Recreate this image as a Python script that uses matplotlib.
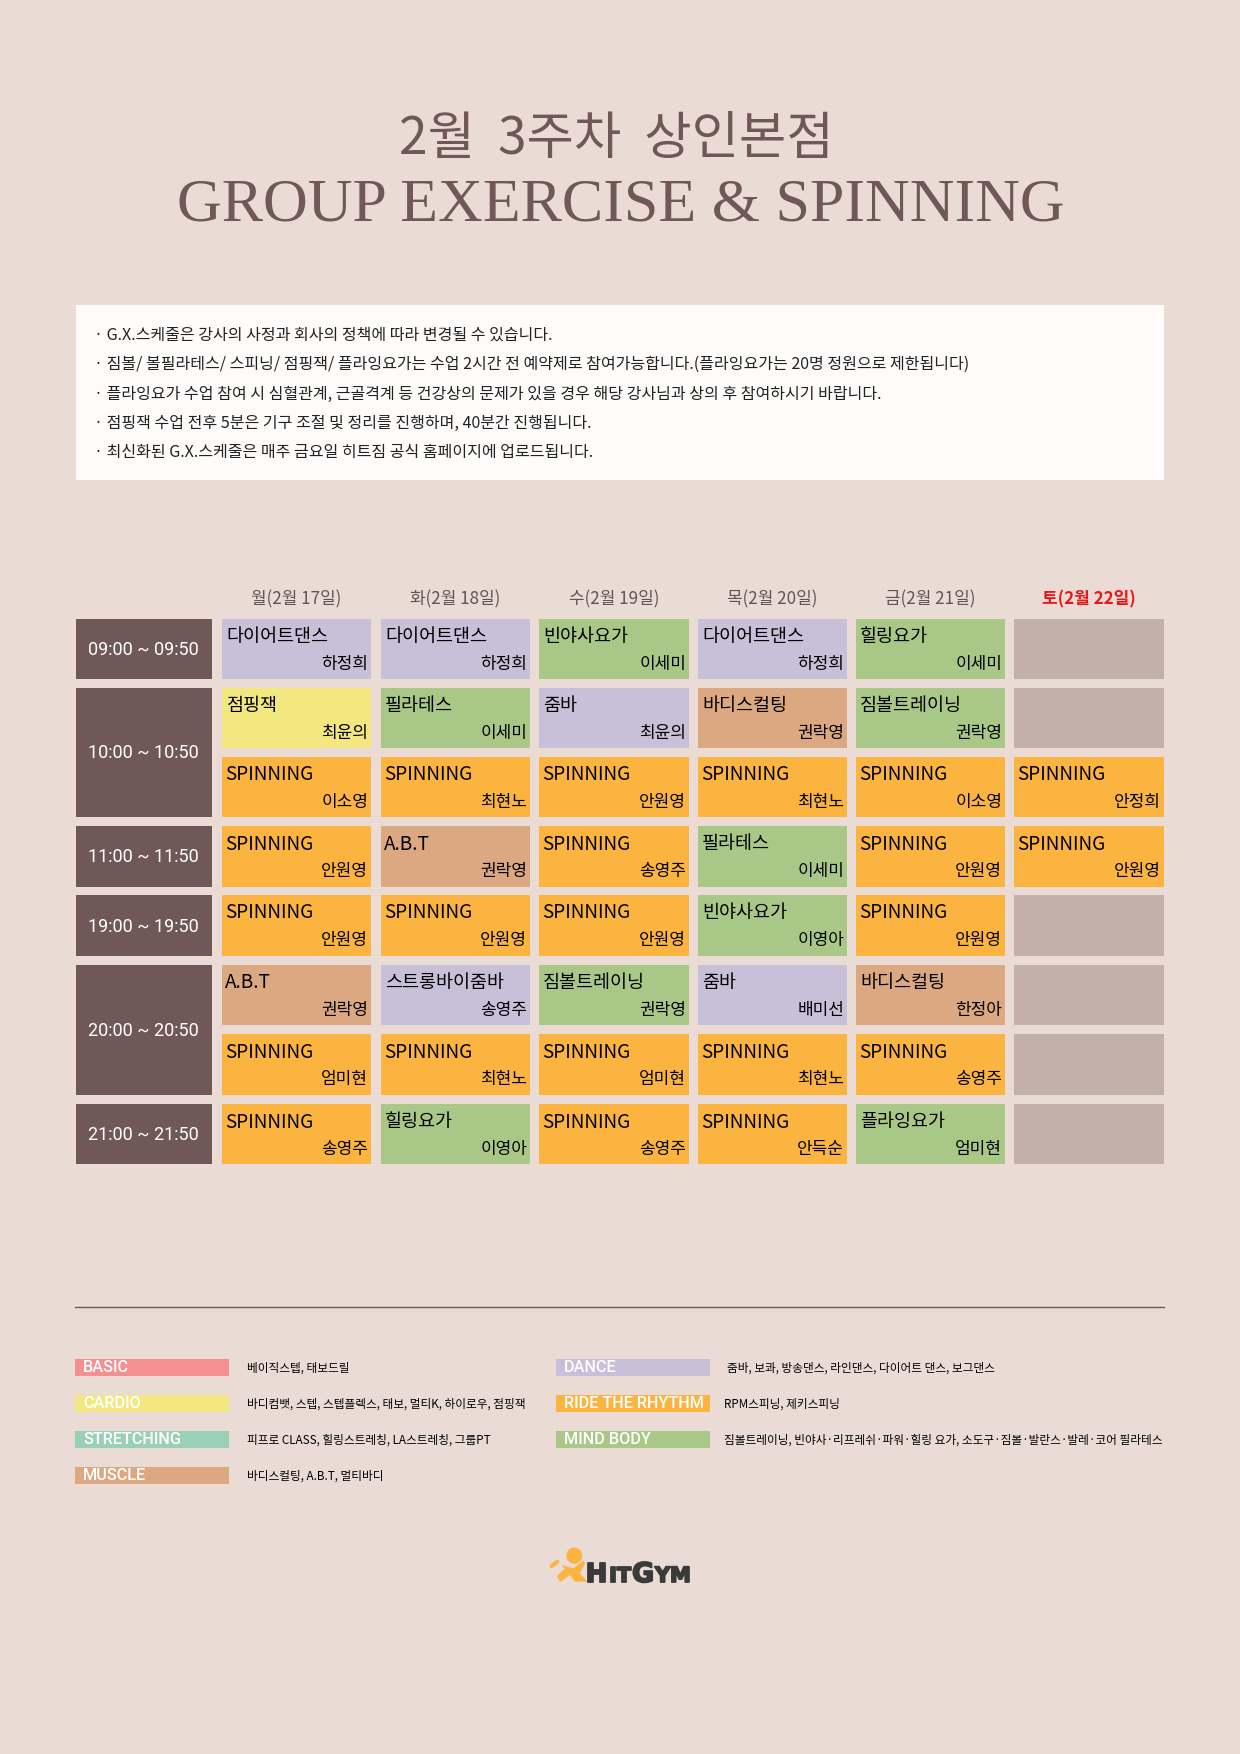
import matplotlib
matplotlib.use("Agg")
import matplotlib.pyplot as plt
import matplotlib.patheffects as pe
from matplotlib.patches import Rectangle, Circle, Polygon

# ---- data ----
title_line1 = "2월  3주차  상인본점"
title_line2 = "GROUP EXERCISE & SPINNING"
notices = [
    "· G.X.스케줄은 강사의 사정과 회사의 정책에 따라 변경될 수 있습니다.",
    "· 짐볼/ 볼필라테스/ 스피닝/ 점핑잭/ 플라잉요가는 수업 2시간 전 예약제로 참여가능합니다.(플라잉요가는 20명 정원으로 제한됩니다)",
    "· 플라잉요가 수업 참여 시 심혈관계, 근골격계 등 건강상의 문제가 있을 경우 해당 강사님과 상의 후 참여하시기 바랍니다.",
    "· 점핑잭 수업 전후 5분은 기구 조절 및 정리를 진행하며, 40분간 진행됩니다.",
    "· 최신화된 G.X.스케줄은 매주 금요일 히트짐 공식 홈페이지에 업로드됩니다.",
]
days = ["월(2월 17일)", "화(2월 18일)", "수(2월 19일)", "목(2월 20일)", "금(2월 21일)", "토(2월 22일)"]
time_labels = ["09:00 ~ 09:50", "10:00 ~ 10:50", "11:00 ~ 11:50", "19:00 ~ 19:50", "20:00 ~ 20:50", "21:00 ~ 21:50"]
time_spans = [(0, 0), (1, 2), (3, 3), (4, 4), (5, 6), (7, 7)]
classes = [
    ["다이어트댄스", "다이어트댄스", "빈야사요가", "다이어트댄스", "힐링요가", None],
    ["점핑잭", "필라테스", "줌바", "바디스컬팅", "짐볼트레이닝", None],
    ["SPINNING", "SPINNING", "SPINNING", "SPINNING", "SPINNING", "SPINNING"],
    ["SPINNING", "A.B.T", "SPINNING", "필라테스", "SPINNING", "SPINNING"],
    ["SPINNING", "SPINNING", "SPINNING", "빈야사요가", "SPINNING", None],
    ["A.B.T", "스트롱바이줌바", "짐볼트레이닝", "줌바", "바디스컬팅", None],
    ["SPINNING", "SPINNING", "SPINNING", "SPINNING", "SPINNING", None],
    ["SPINNING", "힐링요가", "SPINNING", "SPINNING", "플라잉요가", None],
]
teachers = [
    ["하정희", "하정희", "이세미", "하정희", "이세미", ""],
    ["최윤의", "이세미", "최윤의", "권락영", "권락영", ""],
    ["이소영", "최현노", "안원영", "최현노", "이소영", "안정희"],
    ["안원영", "권락영", "송영주", "이세미", "안원영", "안원영"],
    ["안원영", "안원영", "안원영", "이영아", "안원영", ""],
    ["권락영", "송영주", "권락영", "배미선", "한정아", ""],
    ["엄미현", "최현노", "엄미현", "최현노", "송영주", ""],
    ["송영주", "이영아", "송영주", "안득순", "엄미현", ""],
]
legend_left = [
    ("BASIC", "베이직스텝, 태보드릴"),
    ("CARDIO", "바디컴뱃, 스텝, 스텝플렉스, 태보, 멀티K, 하이로우, 점핑잭"),
    ("STRETCHING", "피프로 CLASS, 힐링스트레칭, LA스트레칭, 그룹PT"),
    ("MUSCLE", "바디스컬팅, A.B.T, 멀티바디"),
]
legend_right = [
    ("DANCE", "줌바, 보콰, 방송댄스, 라인댄스, 다이어트 댄스, 보그댄스"),
    ("RIDE THE RHYTHM", "RPM스피닝, 제키스피닝"),
    ("MIND BODY", "짐볼트레이닝, 빈야사·리프레쉬·파워·힐링 요가, 소도구·짐볼·발란스·발레·코어 필라테스"),
]

# ---- styles ----
BG = "#EADCD5"; BROWN = "#6F5856"; EMPTY = "#C3B1A9"
LAV = "#C8BFD9"; YEL = "#F3E77F"; GRN = "#A9C887"; ORG = "#FAB43F"; TAN = "#DBA882"
PINK = "#F48F92"; TEAL = "#9BD0B8"
class_color = {"다이어트댄스": LAV, "줌바": LAV, "스트롱바이줌바": LAV, "점핑잭": YEL,
               "빈야사요가": GRN, "힐링요가": GRN, "필라테스": GRN, "짐볼트레이닝": GRN, "플라잉요가": GRN,
               "바디스컬팅": TAN, "A.B.T": TAN, "SPINNING": ORG}
legend_color = {"BASIC": PINK, "CARDIO": YEL, "STRETCHING": TEAL, "MUSCLE": TAN,
                "DANCE": LAV, "RIDE THE RHYTHM": ORG, "MIND BODY": GRN}
KR = ["Noto Sans CJK KR", "DejaVu Sans"]
LAT = ["Roboto", "Noto Sans CJK KR"]
SERIF = ["Liberation Serif", "Noto Sans CJK KR"]
LOGO = ["DejaVu Sans"]
DARK = "#3A3A3A"

col_x = [(222, 371), (381, 530), (539, 689), (698, 847), (856, 1005), (1014, 1164)]
row_y = [(619, 679), (688, 748), (757, 817), (826, 887), (895, 956), (965, 1025), (1034, 1095), (1104, 1164)]

fig = plt.figure(figsize=(12.4, 17.54), dpi=100, facecolor=BG)
ax = fig.add_axes([0, 0, 1, 1])
ax.set_xlim(0, 1240); ax.set_ylim(1754, 0); ax.axis("off")

def px(p):
    return p * 0.72

def T(x, y, s, size, color="black", ha="left", family=KR, va="center", **kw):
    return ax.text(x, y, s, fontsize=px(size), color=color, ha=ha, va=va, family=family, **kw)

def R(x0, y0, x1, y1, c):
    ax.add_patch(Rectangle((x0, y0), x1 - x0, y1 - y0, fc=c, ec="none"))

# titles
T(616, 139, title_line1, 51.5, BROWN, "center", KR)
T(621, 206, title_line2, 62, BROWN, "center", SERIF)

# notice box
R(76, 305, 1164, 480, "#FEFCFB")
for yy, line in zip([335, 364.5, 394.5, 423.5, 452.5], notices):
    T(94, yy, line, 16.05, "#222222")

# header
for (x0, x1), d in zip(col_x, days):
    T((x0 + x1) / 2, 599, d, 17, "#E8171D" if d.startswith("토") else "#5F5654", "center",
      fontweight="bold" if d.startswith("토") else "medium")

# time boxes
for lab, (a, b) in zip(time_labels, time_spans):
    R(76, row_y[a][0], 212, row_y[b][1], BROWN)
    T(143.5, (row_y[a][0] + row_y[b][1]) / 2 + 1, lab, 18, "white", "center", LAT)

# cells
for r, (y0, y1) in enumerate(row_y):
    for c, (x0, x1) in enumerate(col_x):
        name = classes[r][c]
        if name is None:
            R(x0, y0, x1, y1, EMPTY)
            continue
        R(x0, y0, x1, y1, class_color[name])
        latin = name.isascii()
        T(x0 + (3 if latin else 4), y0 + 18, name, 19 if latin else 18.5, "black")
        T(x1 - 3, y0 + 45, teachers[r][c], 17, "black", "right")

# rule
ax.plot([75, 1164], [1307, 1307], color=BROWN, lw=1)

# legend
for x0, x1, tx, items in [(75, 229, 247, legend_left), (556, 710, 724, legend_right)]:
    for i, (k, desc) in enumerate(items):
        yc = 1367.5 + 36 * i
        R(x0, yc - 8.5, x1, yc + 8.5, legend_color[k])
        T(x0 + 8, yc + 0.5, k, 16.3, "white", "left", LAT, fontweight="medium")
        T(tx + (3 if k == "DANCE" else 0), yc + 0.5, desc, 11.7, "black")

# logo
def L(zx, zy):
    return 530 + zx / 3, 1530 + zy / 3

ax.add_patch(Circle(L(133, 77), 8, fc=ORG, ec="none"))
ax.add_patch(Polygon([L(*p) for p in [(95, 105), (130, 115), (160, 92), (165, 100), (150, 130), (172, 155),
                                      (135, 155), (120, 135), (92, 155), (85, 150), (110, 125)]], fc=ORG, ec="none"))
for a, b in [((65, 108), (82, 95)), ((88, 140), (103, 125))]:
    ax.plot(*zip(L(*a), L(*b)), color=ORG, lw=3, solid_capstyle="round")
for xx, s, sz in [(586, "H", 26), (609, "I", 21), (617, "T", 21), (632, "G", 27), (655, "Y", 21), (670, "M", 21)]:
    t = T(xx, 1582, s, sz, DARK, "left", LOGO, va="baseline", fontweight="bold")
    t.set_path_effects([pe.withStroke(linewidth=1.3, foreground=DARK)])

fig.savefig("out.png", dpi=100, facecolor=BG)
